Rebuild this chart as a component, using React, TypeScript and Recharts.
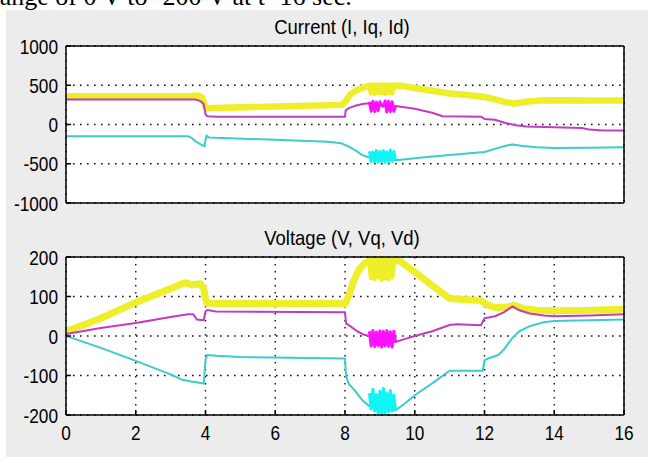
import React from 'react';
import { LineChart, Line, XAxis, YAxis, CartesianGrid } from 'recharts';

// ---------- shared axes ----------
const xTicks = [0, 2, 4, 6, 8, 10, 12, 14, 16];
const currentTicks = [-1000, -500, 0, 500, 1000];
const voltageTicks = [-200, -100, 0, 100, 200];

// time samples of the fast oscillation burst (t ≈ 8.7 – 9.45 s)
const burstT = [8.7, 8.75, 8.8, 8.85, 8.9, 8.95, 9.0, 9.05, 9.1, 9.15, 9.2, 9.25, 9.3, 9.35, 9.4, 9.45];

// ---------- Current (I, Iq, Id) ----------
const iT = [0, 3.6, 3.8, 3.9, 4.0, 4.05, 4.2, 6, 7.9, 8.0, 8.15, 8.3, 8.5, 8.7, 9.45, 9.6, 10, 10.5, 11, 11.5, 12, 12.3, 12.6, 12.85, 13.2, 13.6, 14, 15, 16];
const iV = [360, 362, 368, 345, 225, 205, 210, 230, 250, 285, 380, 430, 470, 490, 495, 495, 465, 430, 395, 375, 350, 320, 285, 268, 290, 305, 310, 305, 305];
const iBurst = [500, 400, 505, 395, 500, 410, 495, 400, 505, 395, 500, 405, 495, 400, 500, 460];

const iqT = [0, 3.7, 3.85, 3.95, 4.0, 4.05, 4.3, 8.0, 8.02, 8.1, 8.3, 8.5, 8.7, 9.45, 9.6, 10, 10.5, 10.8, 11.9, 12.0, 12.3, 12.6, 12.9, 13.2, 14, 14.8, 15.0, 15.4, 16];
const iqV = [320, 320, 300, 260, 130, 105, 100, 100, 180, 205, 240, 262, 272, 235, 225, 200, 150, 105, 100, 70, 60, 20, -10, -25, -35, -45, -65, -75, -75];
const iqBurst = [290, 170, 295, 165, 285, 175, 290, 240, 235, 300, 160, 295, 165, 290, 170, 230];

const idT = [0, 3.5, 3.6, 3.7, 3.85, 3.97, 4.0, 4.03, 4.1, 4.3, 6, 7.5, 7.9, 8.1, 8.3, 8.5, 8.7, 9.45, 9.8, 10.2, 11, 12, 12.3, 12.6, 12.8, 13.1, 13.5, 14, 15, 16];
const idV = [-150, -150, -170, -210, -250, -280, -200, -140, -165, -170, -195, -220, -240, -280, -330, -390, -420, -455, -440, -420, -390, -350, -310, -270, -255, -275, -290, -300, -295, -290];
const idBurst = [-340, -470, -350, -475, -330, -480, -345, -470, -335, -480, -350, -475, -325, -470, -345, -455];

// ---------- Voltage (V, Vq, Vd) ----------
const vT = [0, 0.5, 1, 2, 3, 3.4, 3.6, 3.85, 3.95, 4.0, 4.05, 4.3, 8.0, 8.1, 8.25, 8.4, 8.55, 8.7, 9.45, 9.6, 10, 10.5, 11, 11.5, 11.9, 12.05, 12.3, 12.6, 12.85, 13.1, 13.5, 14, 15, 16];
const vV = [12, 28, 45, 85, 120, 135, 130, 132, 120, 95, 83, 82, 82, 100, 140, 168, 183, 190, 192, 188, 162, 128, 95, 92, 90, 80, 72, 72, 78, 70, 65, 64, 65, 68];
const vBurst = [192, 148, 193, 145, 190, 150, 194, 143, 192, 147, 190, 145, 193, 150, 192, 192];

const vqT = [0, 1, 2, 3, 3.5, 3.65, 3.75, 3.95, 4.0, 4.05, 4.3, 8.0, 8.03, 8.15, 8.35, 8.55, 8.7, 9.45, 9.7, 10, 10.5, 11, 11.2, 11.9, 12.0, 12.3, 12.55, 12.8, 13.0, 13.3, 13.7, 14, 15, 16];
const vqV = [5, 20, 33, 48, 55, 55, 42, 40, 62, 66, 62, 60, 32, 25, 12, 3, 0, -15, -8, 0, 12, 28, 30, 27, 45, 50, 60, 75, 65, 57, 52, 50, 52, 55];
const vqBurst = [12, -25, 14, -27, 10, -24, 13, -28, 12, -25, 14, -26, 11, -28, 12, -15];

const vdT = [0, 1, 2, 2.5, 3, 3.3, 3.6, 3.95, 4.0, 4.05, 4.3, 5, 8.0, 8.03, 8.1, 8.3, 8.5, 8.7, 9.45, 9.7, 10, 10.5, 11, 11.95, 12.0, 12.1, 12.4, 12.55, 12.8, 13.0, 13.3, 13.7, 14, 15, 16];
const vdV = [0, -30, -63, -80, -97, -110, -115, -120, -60, -48, -50, -53, -57, -100, -120, -140, -163, -178, -188, -172, -150, -120, -88, -88, -62, -57, -48, -35, -5, 12, 25, 35, 38, 40, 42];
const vdBurst = [-145, -185, -135, -190, -148, -195, -140, -198, -132, -196, -145, -192, -138, -190, -150, -188];

// ---------- styling ----------
const YELLOW = '#eeee2a';
const MAGENTA = '#c23cc2';
const MAGENTA_BURST = '#ff10ff';
const CYAN = '#3ccccc';
const CYAN_BURST = '#10f4f4';
const FONT = '"Liberation Sans", Arial, sans-serif';
const SQUEEZE = 0.82;

type Series = { t: number[]; v: number[]; color: string; width: number };

const pts = (t: number[], v: number[]) => t.map((x, i) => ({ t: x, v: v[i] }));

function YTick(props: any) {
  const { x, y, payload } = props;
  return (
    <g transform={`translate(${x},${y})`}>
      <text
        transform={`scale(${SQUEEZE},1)`}
        x={0}
        y={0}
        dy="0.36em"
        textAnchor="end"
        fontFamily={FONT}
        fontSize={21}
        fill="#000"
      >
        {payload.value}
      </text>
    </g>
  );
}

function XTick(props: any) {
  const { x, y, payload } = props;
  return (
    <g transform={`translate(${x},${y})`}>
      <text
        transform={`scale(${SQUEEZE},1)`}
        x={0}
        y={0}
        dy="0.72em"
        textAnchor="middle"
        fontFamily={FONT}
        fontSize={21}
        fill="#000"
      >
        {payload.value}
      </text>
    </g>
  );
}

interface PanelProps {
  top: number;
  height: number;
  margin: { top: number; right: number; bottom: number; left: number };
  xAxisHeight: number;
  showXLabels: boolean;
  domain: [number, number];
  yTicks: number[];
  series: Series[];
}

function Panel({ top, height, margin, xAxisHeight, showXLabels, domain, yTicks, series }: PanelProps) {
  const axisLine = { stroke: '#000', strokeWidth: 1.5 };
  const tickLine = { stroke: '#000', strokeWidth: 1.5 };
  return (
    <div style={{ position: 'absolute', left: 0, top, width: 648, height }}>
      <LineChart width={648} height={height} margin={margin}>
        <CartesianGrid
          xAxisId="b"
          yAxisId="l"
          stroke="#111"
          strokeWidth={1.4}
          strokeDasharray="1.6 5.4"
          fill="#ffffff"
          fillOpacity={1}
        />
        {series.map((s, i) => (
          <Line
            key={i}
            xAxisId="b"
            yAxisId="l"
            data={pts(s.t, s.v)}
            dataKey="v"
            type="linear"
            dot={false}
            activeDot={false}
            stroke={s.color}
            strokeWidth={s.width}
            strokeLinejoin="round"
            isAnimationActive={false}
          />
        ))}
        <XAxis
          xAxisId="b"
          type="number"
          dataKey="t"
          domain={[0, 16]}
          ticks={xTicks}
          allowDataOverflow
          orientation="bottom"
          height={xAxisHeight}
          tickSize={-5}
          tickMargin={15}
          axisLine={axisLine}
          tickLine={tickLine}
          tick={showXLabels ? <XTick /> : false}
        />
        <XAxis
          xAxisId="t"
          type="number"
          dataKey="t"
          domain={[0, 16]}
          ticks={xTicks}
          orientation="top"
          height={1}
          tickSize={-5}
          axisLine={axisLine}
          tickLine={tickLine}
          tick={false}
        />
        <YAxis
          yAxisId="l"
          type="number"
          domain={domain}
          ticks={yTicks}
          allowDataOverflow
          width={66}
          tickSize={-5}
          tickMargin={13}
          axisLine={axisLine}
          tickLine={tickLine}
          tick={<YTick />}
        />
        <YAxis
          yAxisId="r"
          type="number"
          orientation="right"
          domain={domain}
          ticks={yTicks}
          width={1}
          tickSize={-5}
          axisLine={axisLine}
          tickLine={tickLine}
          tick={false}
        />
      </LineChart>
    </div>
  );
}

const currentSeries: Series[] = [
  { t: iT, v: iV, color: YELLOW, width: 6.5 },
  { t: burstT, v: iBurst, color: YELLOW, width: 5 },
  { t: iqT, v: iqV, color: MAGENTA, width: 2 },
  { t: burstT, v: iqBurst, color: MAGENTA_BURST, width: 3 },
  { t: idT, v: idV, color: CYAN, width: 2 },
  { t: burstT, v: idBurst, color: CYAN_BURST, width: 3 },
];

const voltageSeries: Series[] = [
  { t: vT, v: vV, color: YELLOW, width: 7 },
  { t: burstT, v: vBurst, color: YELLOW, width: 5 },
  { t: vqT, v: vqV, color: MAGENTA, width: 2 },
  { t: burstT, v: vqBurst, color: MAGENTA_BURST, width: 3 },
  { t: vdT, v: vdV, color: CYAN, width: 2 },
  { t: burstT, v: vdBurst, color: CYAN_BURST, width: 3 },
];

const titleStyle: React.CSSProperties = {
  position: 'absolute',
  left: 63,
  width: 558,
  textAlign: 'center',
  fontFamily: FONT,
  fontSize: 21,
  lineHeight: '21px',
  color: '#000',
  whiteSpace: 'nowrap',
  transform: 'scaleX(0.88)',
  transformOrigin: '279px 0',
};

export default function App() {
  return (
    <div
      style={{
        position: 'absolute',
        left: 0,
        top: 0,
        width: 648,
        height: 457,
        overflow: 'hidden',
        background: '#ffffff',
      }}
    >
      <div
        style={{
          position: 'absolute',
          left: -9,
          top: -16,
          fontFamily: '"Liberation Serif", "Times New Roman", serif',
          fontSize: 26,
          lineHeight: '26px',
          color: '#000',
          whiteSpace: 'nowrap',
        }}
      >
        range of 0 V to -200 V at t=16 sec.
      </div>
      <div
        style={{
          position: 'absolute',
          left: 6,
          top: 10,
          width: 642,
          height: 447,
          background: '#ececec',
        }}
      />
      <div style={{ ...titleStyle, top: 16 }}>Current (I, Iq, Id)</div>
      <div style={{ ...titleStyle, top: 227 }}>Voltage (V, Vq, Vd)</div>
      <Panel
        top={0}
        height={230}
        margin={{ top: 45, right: 23, bottom: 26, left: 0 }}
        xAxisHeight={1}
        showXLabels={false}
        domain={[-1000, 1000]}
        yTicks={currentTicks}
        series={currentSeries}
      />
      <Panel
        top={230}
        height={227}
        margin={{ top: 26, right: 23, bottom: 12, left: 0 }}
        xAxisHeight={30}
        showXLabels={true}
        domain={[-200, 200]}
        yTicks={voltageTicks}
        series={voltageSeries}
      />
    </div>
  );
}
